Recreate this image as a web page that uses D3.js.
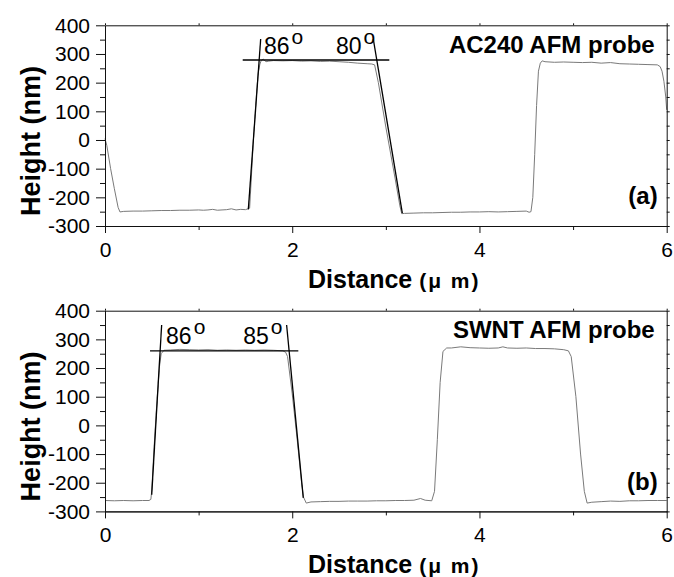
<!DOCTYPE html>
<html><head><meta charset="utf-8">
<script src="https://cdn.jsdelivr.net/npm/d3@7"></script>
<style>
body{margin:0;background:#fff}
svg{display:block}
text{font-family:"Liberation Sans",Arial,Helvetica,sans-serif;fill:#000}
</style>
</head><body>
<svg id="chart" width="674" height="577"></svg>
<script>
// ---- data ----
const distA = [0.00,0.02,0.06,0.10,0.14,0.16,0.20,0.30,0.40,0.50,0.60,0.70,0.80,0.90,1.00,1.05,1.10,1.15,1.20,1.25,1.30,1.35,1.40,1.45,1.50,1.545,1.56,1.585,1.61,1.635,1.655,1.67,1.69,1.72,1.75,1.80,1.90,2.00,2.10,2.20,2.30,2.40,2.50,2.60,2.70,2.80,2.85,2.88,2.92,3.00,3.10,3.15,3.17,3.20,3.30,3.40,3.50,3.60,3.70,3.80,3.90,4.00,4.10,4.20,4.30,4.40,4.50,4.53,4.55,4.57,4.59,4.61,4.63,4.65,4.67,4.70,4.80,4.90,5.00,5.10,5.20,5.30,5.40,5.50,5.60,5.70,5.80,5.90,5.93,5.95,5.97,5.99,6.00];
const heightA = [5,-20,-100,-170,-235,-251,-249,-248,-248,-247,-246,-246,-245,-245,-244,-245,-244,-242,-245,-244,-243,-240,-244,-242,-243,-238,-150,0,120,230,265,278,282,273,275,277,276,277,275,276,274,275,273,271,268,266,265,262,200,45,-136,-230,-257,-256,-255,-254,-254,-253,-252,-252,-251,-251,-250,-251,-250,-249,-248,-252,-250,-200,-50,120,240,268,276,273,271,272,271,270,271,268,270,266,265,264,263,262,256,240,205,150,105];
const distB = [0.00,0.10,0.20,0.30,0.40,0.47,0.49,0.50,0.52,0.55,0.58,0.60,0.63,0.70,0.80,0.90,1.00,1.10,1.20,1.30,1.40,1.50,1.60,1.70,1.80,1.90,1.93,1.95,2.00,2.05,2.10,2.12,2.15,2.20,2.30,2.40,2.50,2.60,2.70,2.80,2.90,3.00,3.10,3.20,3.30,3.37,3.42,3.49,3.52,3.55,3.58,3.61,3.65,3.70,3.80,3.90,4.00,4.10,4.20,4.25,4.30,4.40,4.50,4.60,4.70,4.80,4.90,4.95,4.98,5.03,5.08,5.12,5.15,5.20,5.30,5.40,5.50,5.60,5.70,5.80,5.90,6.00];
const heightB = [-262,-263,-262,-263,-262,-262,-258,-225,-100,60,200,250,262,263,265,264,263,264,262,263,262,263,262,263,262,260,255,240,110,-40,-200,-250,-271,-267,-266,-265,-265,-264,-264,-264,-263,-263,-262,-262,-261,-255,-261,-263,-230,-50,150,258,270,270,274,271,270,269,270,274,270,269,270,268,268,267,264,260,240,100,-100,-230,-271,-268,-266,-264,-265,-263,-263,-262,-262,-262];
const xMajorTicks = [0,2,4,6];
const xMinorTicks = [1,3,5];
const yMajorTicks = [-300,-200,-100,0,100,200,300,400];
const yMinorTicks = [-250,-150,-50,50,150,250,350];
const panelTitles = ["AC240 AFM probe","SWNT AFM probe"];
const panelLetters = ["(a)","(b)"];
// fitted slope / plateau lines: [x1,y1,x2,y2] in data units
const fitLinesA = [[1.471,279,3.037,279],[1.663,352,1.531,-242],[2.866,352,3.176,-255]];
const fitLinesB = [[0.481,260,2.065,260],[0.605,350,0.499,-242],[1.940,350,2.118,-253]];
// angle labels: [x, y, text] in data units
const anglesA = [[1.698,299,"86"],[2.467,299,"80"]];
const anglesB = [[0.652,284,"86"],[1.477,284,"85"]];

const panels = [
  {dist: distA, height: heightA, fits: fitLinesA, angles: anglesA, title: panelTitles[0], letter: panelLetters[0], top: 25.3},
  {dist: distB, height: heightB, fits: fitLinesB, angles: anglesB, title: panelTitles[1], letter: panelLetters[1], top: 310.7}
];

const svg = d3.select("#chart");
const left = 105, width = 561.7, height = 200.7;

panels.forEach(p => {
  const g = svg.append("g").attr("transform", `translate(${left},${p.top})`);
  const x = d3.scaleLinear().domain([0,6]).range([0,width]);
  const y = d3.scaleLinear().domain([-300,400]).range([height,0]);

  // data trace
  const pts = p.dist.map((d,i)=>[d,p.height[i]]);
  g.append("path").datum(pts)
    .attr("fill","none").attr("stroke","#7a7a7a").attr("stroke-width",1)
    .attr("d", d3.line().x(d=>x(d[0])).y(d=>y(d[1])));

  // fit lines
  g.selectAll("line.fit").data(p.fits).enter().append("line")
    .attr("x1",d=>x(d[0])).attr("y1",d=>y(d[1]))
    .attr("x2",d=>x(d[2])).attr("y2",d=>y(d[3]))
    .attr("stroke","#000").attr("stroke-width",1.3);

  // angle labels with superscript degree "o"
  p.angles.forEach(a=>{
    const t = g.append("text").attr("x",x(a[0])).attr("y",y(a[1]))
      .style("font-size","23px");
    t.append("tspan").text(a[2]);
    t.append("tspan").attr("dx",2).attr("dy",-10).style("font-size","21px").text("o");
  });

  // axes
  const axL = g.append("g").call(d3.axisLeft(y).tickValues(yMajorTicks).tickFormat(d=>String(d)).tickSize(9).tickSizeOuter(0).tickPadding(6));
  axL.selectAll("text").style("font-size","21px");
  g.append("g").call(d3.axisLeft(y).tickValues(yMinorTicks).tickSize(5).tickSizeOuter(0).tickFormat(""));
  const axB = g.append("g").attr("transform",`translate(0,${height})`)
    .call(d3.axisBottom(x).tickValues(xMajorTicks).tickFormat(d=>String(d)).tickSize(7).tickSizeOuter(0).tickPadding(9));
  axB.selectAll("text").style("font-size","21px");
  g.append("g").attr("transform",`translate(0,${height})`)
    .call(d3.axisBottom(x).tickValues(xMinorTicks).tickSize(4).tickSizeOuter(0).tickFormat(""));
  // top & right mirror axes
  g.append("g").call(d3.axisTop(x).tickValues(d3.range(0,7,1)).tickSize(2).tickSizeOuter(0).tickFormat(""));
  g.append("g").attr("transform",`translate(${width},0)`)
    .call(d3.axisRight(y).tickValues(d3.range(-300,401,50)).tickSize(3).tickSizeOuter(0).tickFormat(""));
  g.selectAll(".domain, .tick line").attr("stroke","#111");

  // titles
  g.append("text").attr("x",width-12).attr("y",27.5).attr("text-anchor","end")
    .style("font-size","24px").style("font-weight","bold").text(p.title);
  g.append("text").attr("x",width-9).attr("y",179).attr("text-anchor","end")
    .style("font-size","24px").style("font-weight","bold").text(p.letter);

  // y label
  g.append("text").attr("transform",`translate(${40-left},${141-25.3}) rotate(-90)`)
    .attr("text-anchor","middle").style("font-size","27px").style("font-weight","bold")
    .text("Height (nm)");

  // x label
  const xl = g.append("text").attr("x",308-left).attr("y",288-25.3)
    .style("font-weight","bold");
  xl.append("tspan").style("font-size","25px").text("Distance ");
  xl.append("tspan").style("font-size","21px").style("letter-spacing","2px").text("(\u03bc m)");
});
</script>
</body></html>
